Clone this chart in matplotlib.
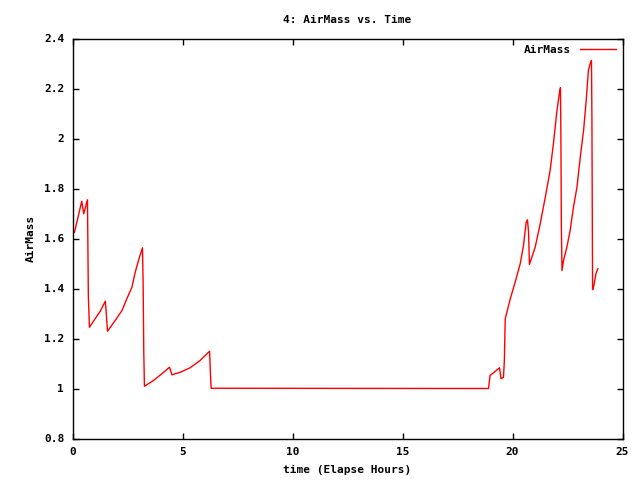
import matplotlib
matplotlib.use('Agg')
import matplotlib.pyplot as plt

plt.rcParams['font.family'] = 'DejaVu Sans Mono'
plt.rcParams['font.weight'] = 'bold'

# elapsed hours vs airmass
hours = [0.09, 0.42, 0.51, 0.68, 0.72, 0.77, 1.26, 1.49, 1.52, 1.59, 1.94, 2.25, 2.47,
         2.70, 2.85, 3.00, 3.18, 3.21, 3.24, 3.27, 3.68, 4.06, 4.41, 4.52, 4.90, 5.35,
         5.80, 6.23, 6.27, 6.30, 18.91, 18.98, 19.14, 19.41, 19.48, 19.59, 19.63, 19.67,
         19.90, 20.12, 20.35, 20.50, 20.62, 20.68, 20.73, 20.77, 20.84, 21.03, 21.26,
         21.49, 21.71, 21.86, 22.02, 22.14, 22.18, 22.20, 22.22, 22.25, 22.32, 22.47,
         22.62, 22.77, 22.93, 23.08, 23.23, 23.35, 23.45, 23.53, 23.59, 23.61, 23.63,
         23.64, 23.70, 23.79, 23.88]
airmass = [1.625, 1.749, 1.699, 1.755, 1.372, 1.245, 1.309, 1.349, 1.319, 1.229, 1.272,
           1.312, 1.359, 1.405, 1.465, 1.512, 1.563, 1.425, 1.143, 1.009, 1.032, 1.059,
           1.085, 1.055, 1.065, 1.083, 1.112, 1.149, 1.060, 1.001, 1.000, 1.052, 1.063,
           1.083, 1.039, 1.045, 1.112, 1.279, 1.359, 1.425, 1.499, 1.572, 1.665, 1.675,
           1.625, 1.496, 1.515, 1.565, 1.659, 1.765, 1.872, 1.979, 2.112, 2.185, 2.203,
           2.019, 1.652, 1.472, 1.512, 1.565, 1.632, 1.725, 1.805, 1.925, 2.032, 2.152,
           2.272, 2.299, 2.312, 2.079, 1.625, 1.395, 1.412, 1.459, 1.479]

fig = plt.figure(figsize=(6.4, 4.8), dpi=100)
ax = fig.add_axes([72.5/640, 1-438.5/480, 550/640, 400/480])
ax.plot(hours, airmass, color='red', linewidth=1, label='AirMass')

ax.set_xlim(0, 25)
ax.set_ylim(0.8, 2.4)
ax.set_xticks([0, 5, 10, 15, 20, 25])
ax.set_yticks([0.8, 1.0, 1.2, 1.4, 1.6, 1.8, 2.0, 2.2, 2.4])
ax.set_yticklabels(['0.8', '1', '1.2', '1.4', '1.6', '1.8', '2', '2.2', '2.4'])
ax.tick_params(direction='in', length=4, width=1, labelsize=8,
               top=True, right=True, pad=6)
for s in ax.spines.values():
    s.set_linewidth(1)

ax.set_title('4: AirMass vs. Time', fontsize=8, fontweight='bold', pad=11)
ax.set_xlabel('time (Elapse Hours)', fontsize=8, fontweight='bold', labelpad=6)
ax.set_ylabel('AirMass', fontsize=8, fontweight='bold', labelpad=6)

leg = ax.legend(loc='upper right', frameon=False, fontsize=8, markerfirst=False,
                handlelength=3.2, borderaxespad=0.2)

fig.savefig('out.png', dpi=100)
